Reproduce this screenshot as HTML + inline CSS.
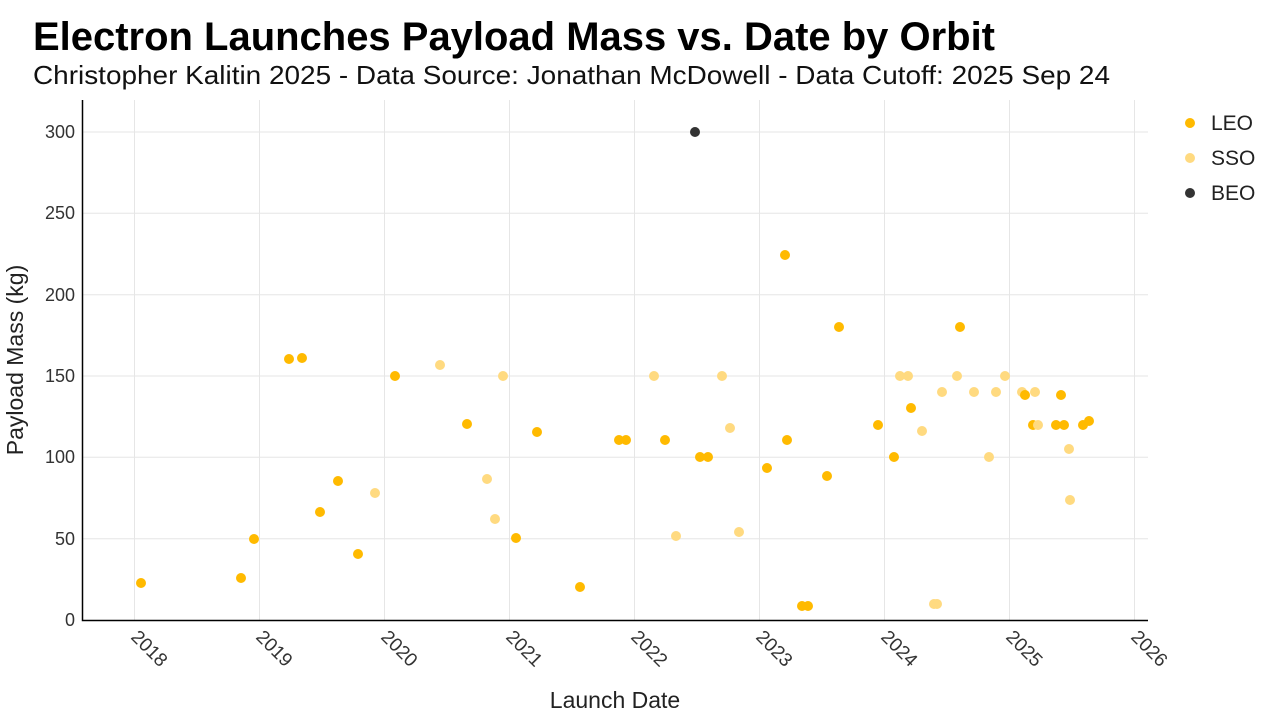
<!DOCTYPE html>
<html><head><meta charset="utf-8"><style>body{margin:0;background:#fff}svg{display:block}text{font-family:"Liberation Sans",Arial,sans-serif}</style></head><body>
<svg width="1280" height="720" viewBox="0 0 1280 720">
<text x="33" y="50" font-size="40" font-weight="bold" fill="#000" textLength="962" lengthAdjust="spacingAndGlyphs">Electron Launches Payload Mass vs. Date by Orbit</text>
<text x="33" y="84" font-size="26" fill="#111" textLength="1077" lengthAdjust="spacingAndGlyphs">Christopher Kalitin 2025 - Data Source: Jonathan McDowell - Data Cutoff: 2025 Sep 24</text>
<g stroke="#e6e6e6" stroke-width="1">
<line x1="82" x2="1148" y1="132" y2="132"/><line x1="82" x2="1148" y1="213.3" y2="213.3"/><line x1="82" x2="1148" y1="294.7" y2="294.7"/><line x1="82" x2="1148" y1="376" y2="376"/><line x1="82" x2="1148" y1="457.3" y2="457.3"/><line x1="82" x2="1148" y1="538.7" y2="538.7"/>
<line y1="100" y2="620" x1="134.5" x2="134.5"/><line y1="100" y2="620" x1="259.5" x2="259.5"/><line y1="100" y2="620" x1="384.5" x2="384.5"/><line y1="100" y2="620" x1="509.5" x2="509.5"/><line y1="100" y2="620" x1="634.5" x2="634.5"/><line y1="100" y2="620" x1="759.5" x2="759.5"/><line y1="100" y2="620" x1="884.5" x2="884.5"/><line y1="100" y2="620" x1="1009.5" x2="1009.5"/><line y1="100" y2="620" x1="1134.5" x2="1134.5"/>
</g>
<path d="M82.5 100V620.5H1148" fill="none" stroke="#000" stroke-width="1.5"/>
<g font-size="18" fill="#333" text-anchor="end">
<text x="75" y="138">300</text><text x="75" y="219">250</text><text x="75" y="301">200</text><text x="75" y="382">150</text><text x="75" y="463">100</text><text x="75" y="545">50</text><text x="75" y="626">0</text>
</g>
<g font-size="19" fill="#333">
<text transform="translate(130,638) rotate(45)">2018</text><text transform="translate(255,638) rotate(45)">2019</text><text transform="translate(380,638) rotate(45)">2020</text><text transform="translate(505,638) rotate(45)">2021</text><text transform="translate(630,638) rotate(45)">2022</text><text transform="translate(755,638) rotate(45)">2023</text><text transform="translate(880,638) rotate(45)">2024</text><text transform="translate(1005,638) rotate(45)">2025</text><text transform="translate(1130,638) rotate(45)">2026</text>
</g>
<text x="615" y="708" font-size="23" fill="#222" text-anchor="middle">Launch Date</text>
<text transform="translate(23,360) rotate(-90)" font-size="23" fill="#222" text-anchor="middle">Payload Mass (kg)</text>
<g fill="#FFDA80">
<circle cx="440" cy="365" r="5"/><circle cx="375" cy="493" r="5"/><circle cx="487" cy="479" r="5"/><circle cx="495" cy="519" r="5"/><circle cx="503" cy="376" r="5"/><circle cx="654" cy="376" r="5"/><circle cx="676" cy="536" r="5"/><circle cx="722" cy="376" r="5"/><circle cx="730" cy="428" r="5"/><circle cx="739" cy="532" r="5"/>
<circle cx="900" cy="376" r="5"/><circle cx="908" cy="376" r="5"/><circle cx="957" cy="376" r="5"/><circle cx="1005" cy="376" r="5"/><circle cx="942" cy="392" r="5"/><circle cx="974" cy="392" r="5"/><circle cx="996" cy="392" r="5"/><circle cx="1022" cy="392" r="5"/><circle cx="1035" cy="392" r="5"/><circle cx="922" cy="431" r="5"/><circle cx="989" cy="457" r="5"/><circle cx="1069" cy="449" r="5"/><circle cx="1070" cy="500" r="5"/><circle cx="934" cy="604" r="5"/><circle cx="937" cy="604" r="5"/>
</g>
<g fill="#FFBA00">
<circle cx="141" cy="583" r="5"/><circle cx="241" cy="578" r="5"/><circle cx="254" cy="539" r="5"/><circle cx="289" cy="359" r="5"/><circle cx="302" cy="358" r="5"/><circle cx="320" cy="512" r="5"/><circle cx="338" cy="481" r="5"/><circle cx="358" cy="554" r="5"/><circle cx="395" cy="376" r="5"/><circle cx="467" cy="424" r="5"/><circle cx="516" cy="538" r="5"/><circle cx="537" cy="432" r="5"/><circle cx="580" cy="587" r="5"/><circle cx="619" cy="440" r="5"/><circle cx="626" cy="440" r="5"/><circle cx="665" cy="440" r="5"/><circle cx="700" cy="457" r="5"/><circle cx="708" cy="457" r="5"/><circle cx="767" cy="468" r="5"/><circle cx="785" cy="255" r="5"/><circle cx="787" cy="440" r="5"/><circle cx="802" cy="606" r="5"/><circle cx="808" cy="606" r="5"/><circle cx="827" cy="476" r="5"/><circle cx="839" cy="327" r="5"/><circle cx="878" cy="425" r="5"/><circle cx="894" cy="457" r="5"/><circle cx="911" cy="408" r="5"/><circle cx="960" cy="327" r="5"/><circle cx="1025" cy="395" r="5"/><circle cx="1033" cy="425" r="5"/><circle cx="1056" cy="425" r="5"/><circle cx="1061" cy="395" r="5"/><circle cx="1064" cy="425" r="5"/><circle cx="1083" cy="425" r="5"/><circle cx="1089" cy="421" r="5"/>
</g>
<circle cx="1038" cy="425" r="5" fill="#FFDA80"/>
<circle cx="695" cy="132" r="5" fill="#333"/>
<circle cx="1190" cy="123" r="5" fill="#FFBA00"/><circle cx="1190" cy="158" r="5" fill="#FFDA80"/><circle cx="1190" cy="193" r="5" fill="#333"/>
<g font-size="21" fill="#222"><text x="1211" y="130">LEO</text><text x="1211" y="165">SSO</text><text x="1211" y="200">BEO</text></g>
</svg>
</body></html>
